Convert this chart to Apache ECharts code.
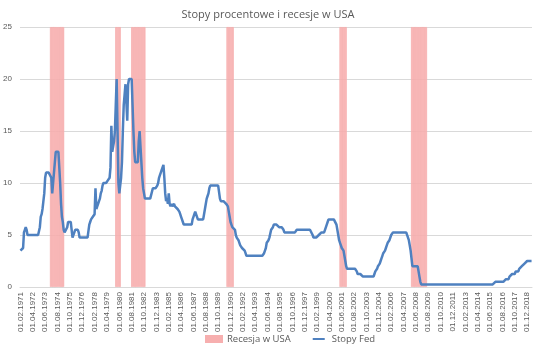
<!DOCTYPE html>
<html>
<head>
<meta charset="utf-8">
<script src="https://cdn.jsdelivr.net/npm/echarts@6/dist/echarts.min.js"></script>
<style>
  html, body { margin: 0; padding: 0; background: #fff; }
  #chart { width: 536px; height: 351px; }
</style>
</head>
<body>
<div id="chart"></div>
<script>
// monthly values, first month 02.1971
const firstYear = 1971;
const firstMonth = 2;

// Stopy Fed, one row per year (1971 starts in February, 2019 ends in May)
const fedRate = [
  3.5, 3.5, 3.5, 3.75, 5.25, 5.5, 5.75, 5.5, 5, 5, 5,                 // 1971
  5, 5, 5, 5, 5, 5, 5, 5, 5, 5, 5, 5.75,                               // 1972
  6.75, 7, 7.5, 8.25, 9, 10.5, 11, 11, 11, 11, 11, 11,                 // 1973
  10.5, 9, 10, 11, 12, 13, 13, 13, 13, 13, 10, 8,                      // 1974
  6.75, 6.25, 5.5, 5.25, 5.25, 5.25, 5.75, 6.25, 6.25, 6.25, 6.25, 5.5, // 1975
  4.75, 4.75, 4.75, 5.5, 5.5, 5.5, 5.5, 5.25, 4.75, 4.75, 4.75, 4.75, // 1976
  4.75, 4.75, 4.75, 4.75, 4.75, 4.75, 4.75, 6, 6.25, 6.5, 6.5, 6.75,  // 1977
  6.75, 7, 9.5, 7.5, 7.75, 8, 8.25, 8.5, 9, 9.25, 9.75, 10,            // 1978
  10, 10, 10, 10, 10.25, 10.25, 10.5, 11.5, 15.5, 13, 13.5, 14,        // 1979
  15, 17.5, 20, 15, 10, 9, 9, 10.5, 12, 15, 17.5, 18.5,                // 1980
  19.5, 19.5, 16, 19.5, 20, 20, 20, 20, 17.5, 15, 13, 12,              // 1981
  12, 12, 12, 14, 15, 15, 12, 10.5, 9.5, 9, 8.5, 8.5,                  // 1982
  8.5, 8.5, 8.5, 8.5, 8.5, 8.5, 8.5, 9.5, 9.5, 9.5, 9.5, 9.5,          // 1983
  9.75, 10, 10.5, 10.75, 11, 11.25, 11.5, 11.75, 10.5, 9, 8.25, 8.5,   // 1984
  8, 9, 8, 7.75, 8, 7.75, 7.75, 8, 7.75, 7.75, 7.75, 7.5,              // 1985
  7.5, 7.25, 7, 6.75, 6.5, 6.25, 6, 6, 6, 6, 6, 6,                     // 1986
  6, 6, 6, 6, 6.5, 6.75, 7, 7.25, 7.25, 6.75, 6.5, 6.5,                // 1987
  6.5, 6.5, 6.5, 6.5, 6.5, 7, 7.5, 8, 8.5, 8.75, 9, 9.5,               // 1988
  9.75, 9.75, 9.75, 9.75, 9.75, 9.75, 9.75, 9.75, 9.75, 9.75, 9.75, 8.5, // 1989
  8.25, 8.25, 8.25, 8.25, 8.25, 8.25, 8, 8, 7.75, 7.25, 6.75, 6.25,    // 1990
  6, 5.75, 5.75, 5.75, 5.5, 5, 4.75, 4.75, 4.5, 4.25, 4, 4,            // 1991
  3.75, 3.75, 3.75, 3.5, 3.25, 3, 3, 3, 3, 3, 3, 3,                    // 1992
  3, 3, 3, 3, 3, 3, 3, 3, 3, 3, 3, 3,                                  // 1993
  3, 3.25, 3.5, 3.75, 4.25, 4.25, 4.5, 4.75, 4.75, 5.5, 5.5, 5.75,     // 1994
  6, 6, 6, 6, 6, 6, 5.75, 5.75, 5.75, 5.75, 5.75, 5.5,                 // 1995
  5.25, 5.25, 5.25, 5.25, 5.25, 5.25, 5.25, 5.25, 5.25, 5.25, 5.25, 5.25, // 1996
  5.25, 5.25, 5.5, 5.5, 5.5, 5.5, 5.5, 5.5, 5.5, 5.5, 5.5, 5.5,        // 1997
  5.5, 5.5, 5.5, 5.5, 5.5, 5.5, 5.5, 5.5, 5, 4.75, 4.75, 4.75,         // 1998
  4.75, 4.75, 4.75, 5, 5, 5, 5.25, 5.25, 5.25, 5.25, 5.5, 5.5,         // 1999
  6, 6.25, 6.5, 6.5, 6.5, 6.5, 6.5, 6.5, 6.5, 6.5, 6.5, 6,             // 2000
  5.5, 5, 4.5, 4.25, 4, 3.75, 3.75, 3.5, 3, 2.5, 2, 1.75,              // 2001
  1.75, 1.75, 1.75, 1.75, 1.75, 1.75, 1.75, 1.75, 1.75, 1.75, 1.5, 1.25, // 2002
  1.25, 1.25, 1.25, 1.25, 1.25, 1, 1, 1, 1, 1, 1, 1,                   // 2003
  1, 1, 1, 1, 1, 1, 1.25, 1.5, 1.5, 1.75, 2, 2,                        // 2004
  2.25, 2.5, 2.75, 3, 3.25, 3.25, 3.5, 3.75, 4, 4.25, 4.25, 4.5,       // 2005
  4.75, 5, 5, 5.25, 5.25, 5.25, 5.25, 5.25, 5.25, 5.25, 5.25, 5.25,    // 2006
  5.25, 5.25, 5.25, 5.25, 5.25, 5.25, 5.25, 5.25, 5.25, 4.5, 4, 3.5,   // 2007
  2.75, 2, 2, 2, 2, 2, 2, 2, 1.5, 1, 0.5, 0.25,                        // 2008
  0.25, 0.25, 0.25, 0.25, 0.25, 0.25, 0.25, 0.25, 0.25, 0.25, 0.25, 0.25, // 2009
  0.25, 0.25, 0.25, 0.25, 0.25, 0.25, 0.25, 0.25, 0.25, 0.25, 0.25, 0.25, // 2010
  0.25, 0.25, 0.25, 0.25, 0.25, 0.25, 0.25, 0.25, 0.25, 0.25, 0.25, 0.25, // 2011
  0.25, 0.25, 0.25, 0.25, 0.25, 0.25, 0.25, 0.25, 0.25, 0.25, 0.25, 0.25, // 2012
  0.25, 0.25, 0.25, 0.25, 0.25, 0.25, 0.25, 0.25, 0.25, 0.25, 0.25, 0.25, // 2013
  0.25, 0.25, 0.25, 0.25, 0.25, 0.25, 0.25, 0.25, 0.25, 0.25, 0.25, 0.25, // 2014
  0.25, 0.25, 0.25, 0.25, 0.25, 0.25, 0.25, 0.25, 0.25, 0.25, 0.25, 0.5,  // 2015
  0.5, 0.5, 0.5, 0.5, 0.5, 0.5, 0.5, 0.5, 0.5, 0.5, 0.5, 0.75,         // 2016
  0.75, 0.75, 0.75, 1, 1, 1, 1.25, 1.25, 1.25, 1.25, 1.5, 1.5,         // 2017
  1.5, 1.5, 1.75, 1.75, 1.75, 2, 2, 2, 2.25, 2.25, 2.25, 2.5,          // 2018
  2.5, 2.5, 2.5, 2.5, 2.5                                              // 2019
];

// Recesja w USA: first and last month of each recession
const recessions = [
  ['01.12.1973', '01.03.1975'],
  ['01.02.1980', '01.07.1980'],
  ['01.08.1981', '01.11.1982'],
  ['01.08.1990', '01.03.1991'],
  ['01.04.2001', '01.11.2001'],
  ['01.01.2008', '01.06.2009']
];
const recessionLevel = 25;

const yTicks = [0, 5, 10, 15, 20, 25];

// month labels 01.MM.YYYY
const pad = (n) => (n < 10 ? '0' + n : '' + n);
const categories = fedRate.map((v, i) => {
  const k = firstMonth - 1 + i;
  return '01.' + pad((k % 12) + 1) + '.' + (firstYear + Math.floor(k / 12));
});

const monthKey = (s) => {
  const p = s.split('.');
  return +p[2] * 12 + +p[1];
};
const recessionData = categories.map((c) => {
  const k = monthKey(c);
  const inside = recessions.some((r) => k >= monthKey(r[0]) && k <= monthKey(r[1]));
  return inside ? recessionLevel : '-';
});

const pink = '#f7afaf';
const blue = '#4f81c0';

const chart = echarts.init(document.getElementById('chart'));
chart.setOption({
  animation: false,
  textStyle: { fontFamily: 'Liberation Sans, Arial, sans-serif' },
  title: {
    text: 'Stopy procentowe i recesje w USA',
    left: 'center',
    top: 4,
    textStyle: { fontSize: 11, fontWeight: 'normal', color: '#595959', fontFamily: 'Open Sans' }
  },
  legend: {
    bottom: 2,
    left: 200,
    itemWidth: 16,
    itemHeight: 6,
    itemGap: 22,
    textStyle: { fontSize: 9.5, color: '#595959', fontFamily: 'Open Sans' },
    data: [
      { name: 'Recesja w USA', icon: 'rect' },
      // thin bar inside a taller invisible box, so it looks like a line
      { name: 'Stopy Fed', icon: 'path://M0,0 L0.01,0 L0.01,0.01 Z M0,3.3 L20,3.3 L20,6.7 L0,6.7 Z M0,10 L0.01,10 L0.01,9.99 Z' }
    ]
  },
  grid: { left: 20, right: 4, top: 27, bottom: 64 },
  xAxis: {
    type: 'category',
    data: categories,
    boundaryGap: true,
    axisTick: { show: false },
    axisLine: { lineStyle: { color: '#d9d9d9' } },
    axisLabel: {
      interval: 13,
      rotate: 90,
      fontSize: 8,
      color: '#595959',
      margin: 5
    }
  },
  yAxis: {
    type: 'value',
    min: yTicks[0],
    max: yTicks[yTicks.length - 1],
    interval: 5,
    axisLine: { show: false },
    axisTick: { show: false },
    axisLabel: { fontSize: 8, color: '#595959', margin: 8 },
    splitLine: { lineStyle: { color: '#d9d9d9' } }
  },
  series: [
    {
      name: 'Recesja w USA',
      type: 'bar',
      data: recessionData,
      barCategoryGap: '0%',
      barGap: '0%',
      itemStyle: { color: pink, borderColor: pink, borderWidth: 0.6 },
      z: 1
    },
    {
      name: 'Stopy Fed',
      type: 'line',
      data: fedRate,
      symbol: 'none',
      lineStyle: { color: blue, width: 2.5 },
      itemStyle: { color: blue },
      z: 3
    }
  ]
});
</script>
</body>
</html>
